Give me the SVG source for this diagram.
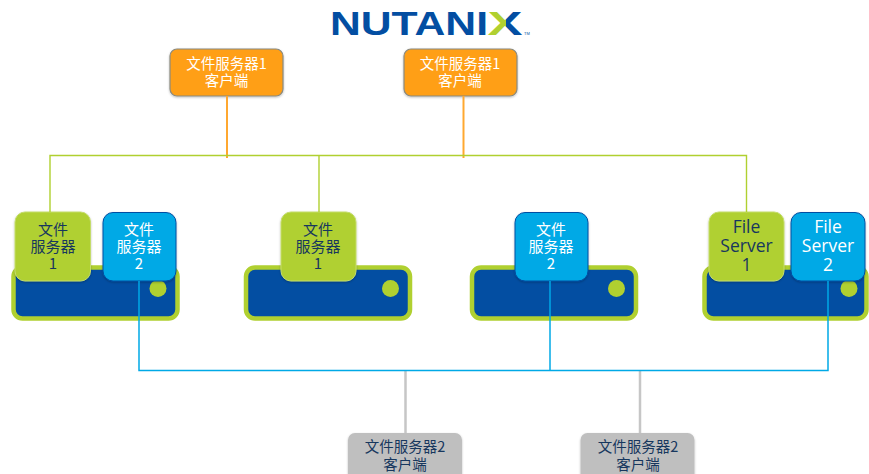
<svg xmlns="http://www.w3.org/2000/svg" width="869" height="474" viewBox="0 0 869 474">
<defs>
<linearGradient id="xfill" x1="0" y1="0" x2="1" y2="0"><stop offset="0.5" stop-color="#b0d030"/><stop offset="0.5" stop-color="#034ea2"/></linearGradient>
<filter id="sh" x="-10%" y="-10%" width="120%" height="125%"><feDropShadow dx="0" dy="1" stdDeviation="1" flood-color="#000" flood-opacity="0.25"/></filter>
</defs>
<style>
text{font-family:"Noto Sans CJK SC","Noto Sans",sans-serif;text-anchor:middle}
.en{font-family:"Open Sans","Noto Sans",sans-serif;font-size:17.5px;fill:#17375e}
.card{font-size:15px}
.dark{fill:#17375e}
.white{fill:#fff}
.client{font-size:14.500px}
.server{fill:#034ea2;stroke:#b0d030;stroke-width:4.500}
.led{fill:#b0d030}
.green{fill:#b0d030;stroke:#c4dc6c;stroke-width:1;filter:url(#sh)}
.blue{fill:#00a9e6;stroke:#034ea2;stroke-width:1;filter:url(#sh)}
.orange{fill:#ff9f14;stroke:#8a8a80;stroke-width:1.200;filter:url(#sh)}
.gray{fill:#bfbfbf;filter:url(#sh)}
.lg{fill:none;stroke:#b0d030;stroke-width:1.400}
.lb{fill:none;stroke:#00a9e6;stroke-width:1.500}
.lo{fill:none;stroke:#ffa830;stroke-width:2}
.lgy{fill:none;stroke:#c6c6c6;stroke-width:2.500}
</style>
<g id="logo">
<text x="409" y="35" style="font-family:'Liberation Sans',sans-serif;font-weight:700;font-size:33.500px" fill="#034ea2" textLength="158" lengthAdjust="spacingAndGlyphs">NUTANI</text>
<text x="505" y="35" style="font-family:'Liberation Sans',sans-serif;font-weight:700;font-size:33.500px" fill="url(#xfill)" textLength="35" lengthAdjust="spacingAndGlyphs">X</text>
<text x="527" y="35" style="font-family:'Liberation Sans',sans-serif;font-size:4px" fill="#034ea2">TM</text>
</g>
<g id="client-1a"><rect class="orange" x="170" y="49" width="113" height="47" rx="7"/><text class="white client" x="226.500" y="69">文件服务器1</text><text class="white client" x="226.500" y="86">客户端</text></g>
<g id="client-1b"><rect class="orange" x="404" y="49" width="113" height="47" rx="7"/><text class="white client" x="460" y="69">文件服务器1</text><text class="white client" x="460" y="86">客户端</text></g>
<g id="server-1"><rect class="server" x="13.500" y="267.500" width="164" height="51" rx="9"/><circle class="led" cx="158" cy="288.500" r="8.500"/>
<rect class="green" x="15" y="212" width="75.500" height="69" rx="10"/><text class="dark card" x="53" y="234.500">文件</text><text class="dark card" x="53" y="251.500">服务器</text><text class="dark card" x="53" y="268.500">1</text>
<rect class="blue" x="103" y="212.500" width="73" height="68.500" rx="10"/><text class="white card" x="139" y="234.500">文件</text><text class="white card" x="139" y="251.500">服务器</text><text class="white card" x="139" y="268.500">2</text></g>
<g id="server-2"><rect class="server" x="246" y="267.500" width="164" height="51" rx="9"/><circle class="led" cx="390.500" cy="288.500" r="8.500"/>
<rect class="green" x="281" y="212" width="75" height="69" rx="10"/><text class="dark card" x="318" y="234.500">文件</text><text class="dark card" x="318" y="251.500">服务器</text><text class="dark card" x="318" y="268.500">1</text></g>
<g id="server-3"><rect class="server" x="472" y="267.500" width="164" height="51" rx="9"/><circle class="led" cx="616.500" cy="288.500" r="8.500"/>
<rect class="blue" x="515" y="212.500" width="73" height="68.500" rx="10"/><text class="white card" x="551" y="234.500">文件</text><text class="white card" x="551" y="251.500">服务器</text><text class="white card" x="551" y="268.500">2</text></g>
<g id="server-4"><rect class="server" x="704.500" y="267.500" width="162" height="51" rx="9"/><circle class="led" cx="849" cy="288.500" r="8.500"/>
<rect class="green" x="709" y="212" width="75" height="69" rx="10"/><text class="en" x="746.500" y="233">File</text><text class="en" x="746.500" y="252">Server</text><text class="en" x="746.500" y="271">1</text>
<rect class="blue" x="791" y="212.500" width="74" height="68.500" rx="10"/><text class="en" style="fill:#fff" x="828" y="233">File</text><text class="en" style="fill:#fff" x="828" y="252">Server</text><text class="en" style="fill:#fff" x="828" y="271">2</text></g>
<g id="client-2a"><rect class="gray" x="348" y="433" width="114" height="50" rx="7"/><text class="dark client" x="405" y="452">文件服务器2</text><text class="dark client" x="405" y="470">客户端</text></g>
<g id="client-2b"><rect class="gray" x="580.500" y="433" width="114" height="50" rx="7"/><text class="dark client" x="638" y="452">文件服务器2</text><text class="dark client" x="638" y="470">客户端</text></g>
<g id="connectors">
<path class="lo" d="M227 96V158"/>
<path class="lo" d="M463.500 96V158"/>
<path class="lg" d="M50 212V155.500H746.500V212"/>
<path class="lg" d="M319 155.500V212"/>
<path class="lgy" d="M405.500 371V433"/>
<path class="lgy" d="M640 371V433"/>
<path class="lb" d="M139 281V370.500H828V281"/>
<path class="lb" d="M550 281V370.500"/>
</g>
</svg>
